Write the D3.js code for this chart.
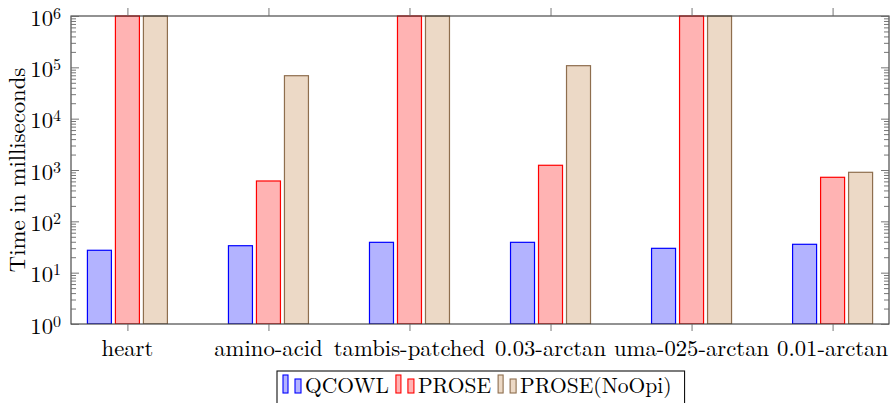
<!DOCTYPE html>
<html>
<head>
<meta charset="utf-8">
<script src="https://cdn.jsdelivr.net/npm/d3@7"></script>
<style>
  html, body { margin: 0; padding: 0; background: #fff; }
  svg { display: block; }
</style>
</head>
<body>
<svg id="chart" width="891" height="403"></svg>
<script>
const categories = ["heart", "amino-acid", "tambis-patched", "0.03-arctan", "uma-025-arctan", "0.01-arctan"];
const seriesNames = ["QCOWL", "PROSE", "PROSE(NoOpi)"];
const qcowl = [27.3, 33.5, 39, 39, 29.8, 35.7];
const prose = [1e6, 611, 1e6, 1236, 1e6, 721];
const proseNoOpi = [1e6, 68700, 1e6, 107700, 1e6, 902];
const yTickExponents = [0, 1, 2, 3, 4, 5, 6];

const seriesValues = [qcowl, prose, proseNoOpi];
const fills = ["#b3b3ff", "#ffb3b3", "#ecd9c6"];
const strokes = ["#0000ff", "#ff0000", "#8e6e4e"];
const FONT = "'Latin Modern Roman', 'Liberation Serif', serif";
const FS = 22.7;
const LFS = 21.5;

const svg = d3.select("#chart");
const plot = { left: 71, right: 889, top: 16, bottom: 324 };

const x = d3.scalePoint().domain(categories).range([plot.left, plot.right]).padding(0.4);
const xInner = d3.scaleBand().domain(seriesNames).range([-42, 42]).paddingInner(4 / 28).paddingOuter(2 / 28);
const y = d3.scaleLog().domain([1, 1e6]).range([plot.bottom, plot.top]);

function txt(sel) {
  return sel.style("font-family", FONT).attr("fill", "#000");
}

// bars
const clipId = "plotclip";
svg.append("clipPath").attr("id", clipId).append("rect")
  .attr("x", plot.left).attr("y", plot.top - 1)
  .attr("width", plot.right - plot.left).attr("height", plot.bottom - plot.top + 1);

const barG = svg.append("g").attr("clip-path", `url(#${clipId})`);
seriesNames.forEach((name, si) => {
  barG.append("g").selectAll("rect")
    .data(categories.map((c, i) => ({ c, v: seriesValues[si][i] })))
    .join("rect")
    .attr("x", d => x(d.c) + xInner(name))
    .attr("width", xInner.bandwidth())
    .attr("y", d => y(d.v))
    .attr("height", d => y(1) - y(d.v))
    .attr("fill", fills[si])
    .attr("stroke", strokes[si])
    .attr("stroke-width", 1.2);
});

// frame
svg.append("rect")
  .attr("x", plot.left).attr("y", plot.top)
  .attr("width", plot.right - plot.left).attr("height", plot.bottom - plot.top)
  .attr("fill", "none").attr("stroke", "#3a3a3a").attr("stroke-width", 1.1);

// y ticks (inside, both sides)
const majorTicks = yTickExponents.map(e => Math.pow(10, e));
const minorTicks = [];
for (let e = 0; e < 6; e++) for (let m = 2; m <= 9; m++) minorTicks.push(m * Math.pow(10, e));

function yTicks(axisGen, xPos) {
  const gMaj = svg.append("g").attr("transform", `translate(${xPos},0)`)
    .call(axisGen(y).tickValues(majorTicks).tickSize(-8).tickFormat(""));
  const gMin = svg.append("g").attr("transform", `translate(${xPos},0)`)
    .call(axisGen(y).tickValues(minorTicks).tickSize(-5).tickFormat(""));
  [gMaj, gMin].forEach(g => {
    g.select(".domain").remove();
    g.selectAll("line").attr("stroke", "#666").attr("stroke-width", 0.9);
  });
}
yTicks(d3.axisLeft, plot.left);
yTicks(d3.axisRight, plot.right);

// y tick labels
const yl = svg.append("g");
majorTicks.forEach((v, i) => {
  const t = txt(yl.append("text"))
    .attr("x", 61).attr("y", y(v) + 9.5)
    .attr("text-anchor", "end")
    .attr("font-size", FS);
  t.append("tspan").text("10");
  t.append("tspan").attr("dy", -7).attr("font-size", 16).text(String(yTickExponents[i]));
});

// x ticks (outside, bottom and top)
const xb = svg.append("g").attr("transform", `translate(0,${plot.bottom})`)
  .call(d3.axisBottom(x).tickSize(7).tickFormat(""));
const xt = svg.append("g").attr("transform", `translate(0,${plot.top})`)
  .call(d3.axisTop(x).tickSize(8).tickFormat(""));
[xb, xt].forEach(g => {
  g.select(".domain").remove();
  g.selectAll("line").attr("stroke", "#666").attr("stroke-width", 0.9);
});

// x labels
txt(svg.append("g").selectAll("text").data(categories).join("text"))
  .attr("x", d => x(d)).attr("y", 356)
  .attr("text-anchor", "middle")
  .attr("font-size", FS)
  .text(d => d);

// y label
txt(svg.append("text"))
  .attr("transform", `translate(25,${(plot.top + plot.bottom) / 2}) rotate(-90)`)
  .attr("text-anchor", "middle")
  .attr("font-size", FS)
  .text("Time in milliseconds");

// legend
const lg = svg.append("g");
const legendTop = 371;
const legendBox = lg.append("rect")
  .attr("x", 277).attr("y", legendTop).attr("width", 405).attr("height", 60)
  .attr("fill", "#fff").attr("stroke", "#111").attr("stroke-width", 1.1);
let cx = 283;
const baseY = 393;
seriesNames.forEach((name, si) => {
  lg.append("rect").attr("x", cx).attr("y", baseY - 18).attr("width", 5).attr("height", 18)
    .attr("fill", fills[si]).attr("stroke", strokes[si]).attr("stroke-width", 1.1);
  lg.append("rect").attr("x", cx + 12).attr("y", baseY - 14).attr("width", 6).attr("height", 14)
    .attr("fill", fills[si]).attr("stroke", strokes[si]).attr("stroke-width", 1.1);
  const t = txt(lg.append("text")).attr("x", cx + 22).attr("y", baseY)
    .attr("font-size", LFS).text(name);
  const w = t.node().getComputedTextLength();
  cx = cx + 22 + w + 7;
});
legendBox.attr("width", cx - 7 + 13 - 277);
</script>
</body>
</html>
